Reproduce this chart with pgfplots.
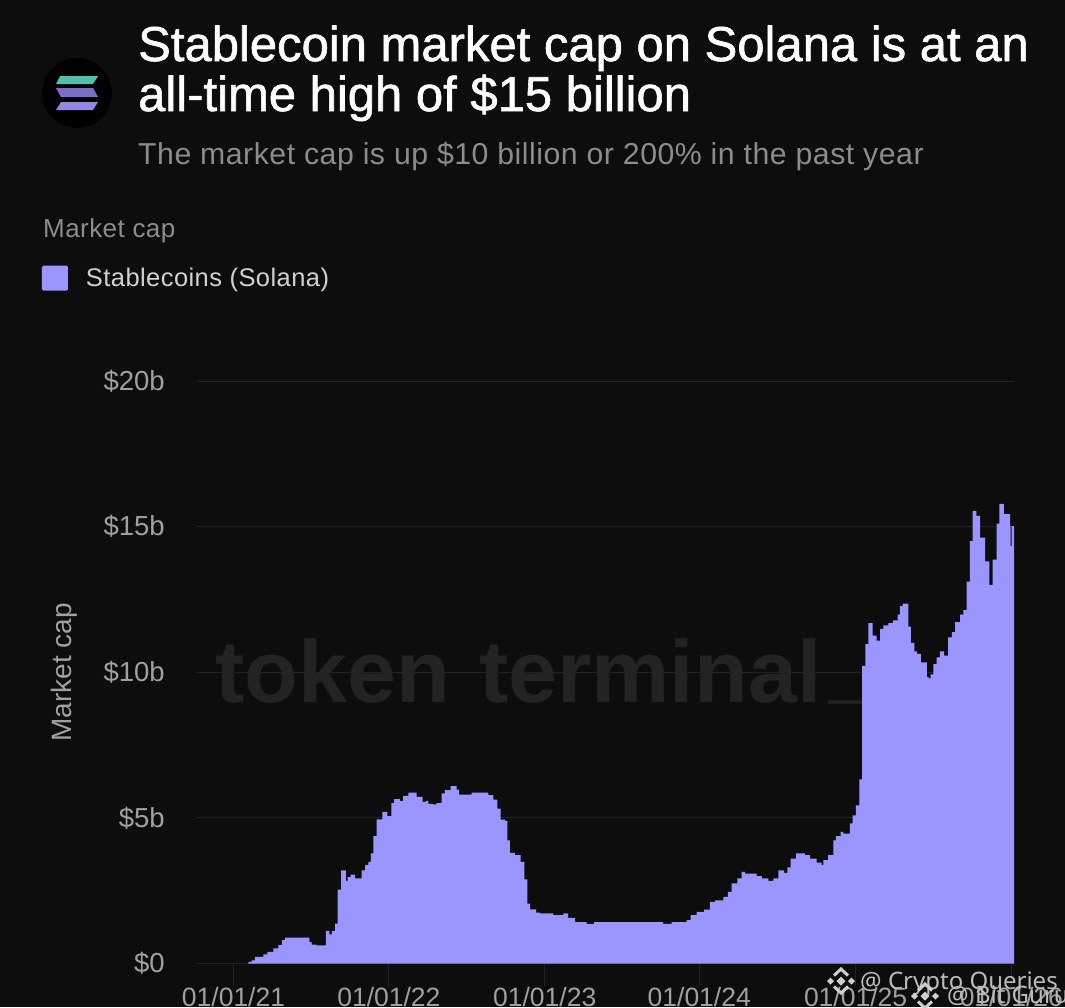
\documentclass[border=0pt]{standalone}
\usepackage{fontspec}
\setmainfont{Liberation Sans}
\newfontfamily\titlefont[FakeBold=1.2]{Liberation Sans}
\newfontfamily\subfont[LetterSpace=1.7]{Liberation Sans}
\newfontfamily\stampfont{Noto Sans}
\usepackage{pgfplots}
\pgfplotsset{compat=1.18}
\usepackage{pgfplotstable}

\definecolor{bg}{HTML}{0D0D0E}
\definecolor{areac}{HTML}{9A95FF}
\definecolor{gridc}{HTML}{232323}
\definecolor{tickc}{HTML}{A0A0A0}
\definecolor{subc}{HTML}{8C8C8C}
\definecolor{solteal}{HTML}{4FBFAE}
\definecolor{solmid}{HTML}{7B6FC8}
\definecolor{sollow}{HTML}{8F87E0}

% x = weeks since 01/01/21, y = market cap in $b, one row per step
\pgfplotstableread{
w v
4.98 0.06
6.1 0.11
7.2 0.23
10.0 0.31
11.4 0.40
13.4 0.52
15.1 0.63
16.2 0.80
17.3 0.89
25.5 0.74
26.2 0.65
27.9 0.62
31.0 1.12
32.2 1.00
33.0 1.12
34.1 1.37
35.0 2.54
36.1 3.20
37.7 2.84
38.3 2.97
39.3 3.05
40.8 2.92
43.0 3.20
44.2 3.38
45.3 3.49
46.1 3.78
47.0 4.37
48.1 4.95
50.0 5.21
51.7 5.06
53.0 5.51
53.9 5.64
55.9 5.58
57.0 5.76
58.7 5.87
61.5 5.72
63.5 5.55
64.6 5.58
65.4 5.48
66.9 5.46
68.2 5.51
69.9 5.84
71.0 5.95
72.9 6.09
74.9 5.97
75.8 5.80
80.0 5.87
85.6 5.78
87.3 5.63
88.6 5.32
89.7 4.94
91.2 4.90
92.0 4.23
92.8 3.80
94.5 3.72
96.4 3.49
97.7 2.89
98.7 2.06
99.6 1.86
101.6 1.75
102.9 1.72
107.4 1.66
110.8 1.72
112.4 1.57
114.7 1.42
118.6 1.36
121.1 1.42
144.3 1.36
147.1 1.42
152.2 1.49
153.5 1.66
155.5 1.77
158.0 1.85
160.0 2.12
161.7 2.17
164.5 2.29
166.0 2.46
167.3 2.75
169.2 2.92
170.6 3.15
171.8 3.09
175.7 3.00
177.4 2.92
179.6 2.84
181.3 2.92
183.0 3.20
184.9 3.11
186.0 3.30
187.1 3.60
188.9 3.78
191.9 3.72
193.6 3.60
195.8 3.46
197.5 3.38
198.1 3.55
199.7 3.72
201.4 4.23
202.3 4.37
203.9 4.52
204.8 4.46
207.0 4.81
207.9 5.09
209.0 5.43
210.2 6.32
211.1 10.22
212.2 10.97
213.2 11.69
214.6 11.26
216.0 11.09
217.1 11.49
218.2 11.61
219.9 11.69
221.4 11.78
223.0 11.98
223.8 12.27
224.7 12.36
226.6 11.57
227.5 11.01
228.6 10.72
229.6 10.63
230.8 10.34
232.8 9.84
233.4 9.79
234.1 9.93
235.0 10.28
236.1 10.51
237.2 10.72
238.6 10.57
240.0 11.20
241.2 11.38
242.3 11.72
244.0 11.98
245.1 12.13
246.2 13.11
247.3 14.50
248.2 15.54
249.5 15.37
250.7 14.62
252.4 13.81
253.8 13.00
254.9 13.87
256.3 15.10
257.2 15.78
258.7 15.43
260.8 15.02
261.0 14.33
261.3 15.02
262.2 15.02
}\solana

% stamp icon: centre and side diamonds, chevrons above and below
\newcommand{\binance}[3]{%
  \begin{scope}[shift={(#1,#2)}]
    \fill[#3] (4.5,0) -- (0,4.5) -- (-4.5,0) -- (0,-4.5) -- cycle;
    \fill[#3] (-7,0) -- (-10.5,3.5) -- (-14,0) -- (-10.5,-3.5) -- cycle;
    \fill[#3] (14,0) -- (10.5,3.5) -- (7,0) -- (10.5,-3.5) -- cycle;
    \draw[#3,line width=3pt] (-7,-5.5) -- (0,-12) -- (7,-5.5);
    \draw[#3,line width=3pt] (-7,5.5) -- (0,12) -- (7,5.5);
  \end{scope}
}

\begin{document}
\begin{tikzpicture}[x=1pt,y=-1pt]
\useasboundingbox (0,0) rectangle (1065,1007);
\clip (0,0) rectangle (1065,1007);
\fill[bg] (0,0) rectangle (1065,1007);

% logo
\fill[black!90!bg] (77,93) circle (35);
\fill[solteal] (56,84) -- (60,76) -- (98,76) -- (93,84) -- cycle;
\fill[solmid] (56,88) -- (93,88) -- (98,97) -- (61,97) -- cycle;
\fill[sollow] (56,110) -- (61,102) -- (98,102) -- (93,110) -- cycle;

% titles
\node[anchor=base west,inner sep=0,white,font=\titlefont\fontsize{49}{52}\selectfont] at (138,61) {Stablecoin market cap on Solana is at an};
\node[anchor=base west,inner sep=0,white,font=\titlefont\fontsize{49}{52}\selectfont] at (138,111) {all-time high of \$15 billion};
\node[anchor=base west,inner sep=0,subc,font=\subfont\fontsize{30.23}{32}\selectfont] at (138,164) {The market cap is up \$10 billion or 200\% in the past year};
\node[anchor=base west,inner sep=0,subc,font=\subfont\fontsize{26}{28}\selectfont] at (43,237) {Market cap};

% faint brand mark behind the plot
\node[anchor=base west,inner sep=0,white!9!bg,font=\bfseries\fontsize{88}{90}\selectfont] at (215,702) {token\hspace{5pt} terminal\hspace{8pt}\raisebox{9pt}{\_}};

\begin{axis}[
    at={(197pt,-963.5pt)},
    anchor=south west,
    scale only axis,
    width=817pt,
    height=582.5pt,
    xmin=-12.26, xmax=262.1,
    ymin=0, ymax=20,
    xtick={0,52.18,104.5,156.4,208.9,261.2},
    xticklabels={01/01/21,01/01/22,01/01/23,01/01/24,01/01/25,01/01/26},
    ytick={0,5,10,15,20},
    yticklabels={\$0,\$5b,\$10b,\$15b,\$20b},
    ymajorgrids=true,
    grid style={gridc,line width=0.8pt},
    axis line style={draw=none},
    tick align=outside,
    tick pos=lower,
    major tick length=22pt,
    xtick style={gridc,line width=1pt},
    ytick style={draw=none},
    ticklabel style={tickc,inner sep=0pt},
    yticklabel style={font=\fontsize{27.5}{29}\selectfont,xshift=-10pt},
    xticklabel style={font=\fontsize{26.5}{29}\selectfont,yshift=-2pt},
    ylabel={Market cap},
    ylabel style={tickc,font=\fontsize{28}{30}\selectfont,at={(axis description cs:-0.163,0.5)},anchor=center,inner sep=0pt},
    legend style={at={(axis description cs:-0.19,1.1766)},anchor=west,draw=none,fill=none,
        font=\subfont\fontsize{25.5}{28}\selectfont,text=white!82!black,inner sep=0pt,
        nodes={inner sep=0pt,anchor=base west}},
    legend image code/.code={\fill[areac,rounded corners=1.5pt] (0pt,-4pt) rectangle (26pt,21pt);},
]
\addplot[const plot,fill=areac,draw=none] table[x=w,y=v] {\solana} \closedcycle;
\addlegendentry{\hspace*{18pt}Stablecoins (Solana)}
\end{axis}

% platform stamps over the chart
\binance{841}{981}{white!80!bg}
\node[anchor=base west,inner sep=0,white!72!bg,font=\stampfont\fontsize{24}{28}\selectfont] at (860,989) {@ Crypto Queries};
\binance{925}{996}{white!80!bg}
\node[anchor=base west,inner sep=0,white!72!bg,font=\stampfont\fontsize{24}{28}\selectfont] at (947,1003) {@ Bit Guru};
\end{tikzpicture}
\end{document}
